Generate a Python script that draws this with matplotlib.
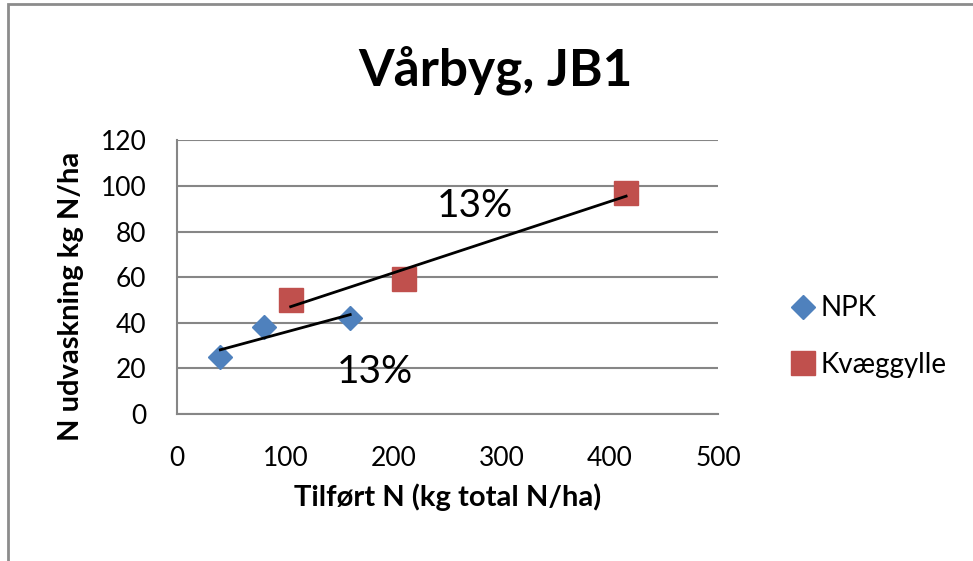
import numpy as np
import matplotlib.pyplot as plt
from matplotlib.patches import Rectangle

# data
npk_x = [40, 80, 160]
npk_y = [25, 38, 42]
gylle_x = [105, 210, 415]
gylle_y = [50, 59, 97]

x_ticks = [0, 100, 200, 300, 400, 500]
y_ticks = [0, 20, 40, 60, 80, 100, 120]

plt.rcParams['font.family'] = ['Lato', 'DejaVu Sans']

fig = plt.figure(figsize=(9.73, 5.61), dpi=100)
ax = fig.add_axes([0.182, 0.262, 0.556, 0.488])

# outer chart frame (only top/left edges visible in reference)
fig.patches.append(Rectangle((0.0085, -0.1), 1.2, 1.093, transform=fig.transFigure,
                             fill=False, edgecolor='#8c8c8c', linewidth=2))

ax.plot(npk_x, npk_y, linestyle='none', marker='D', markersize=12,
        color='#4F81BD', label='NPK', zorder=3)
ax.plot(gylle_x, gylle_y, linestyle='none', marker='s', markersize=17,
        color='#C0504D', label='Kvæggylle', zorder=3)

# linear trendlines
for xs, ys in [(npk_x, npk_y), (gylle_x, gylle_y)]:
    k, m = np.polyfit(xs, ys, 1)
    xx = np.array([min(xs), max(xs)])
    ax.plot(xx, k * xx + m, color='black', linewidth=2, zorder=4)

ax.text(275, 91, '13%', fontsize=28, ha='center', va='center')
ax.text(183, 18.5, '13%', fontsize=28, ha='center', va='center')

ax.set_xlim(0, 500)
ax.set_ylim(0, 120)
ax.set_xticks(x_ticks)
ax.set_yticks(y_ticks)
ax.tick_params(axis='both', length=0, labelsize=19)
ax.tick_params(axis='x', pad=23)
ax.tick_params(axis='y', pad=22)
ax.grid(axis='y', color='#868686', linewidth=1.5)
ax.set_axisbelow(True)
for s in ['top', 'right']:
    ax.spines[s].set_visible(False)
for s in ['left', 'bottom']:
    ax.spines[s].set_color('#868686')
    ax.spines[s].set_linewidth(1.5)

ax.set_xlabel('Tilført N (kg total N/ha)', fontsize=21, fontweight='bold', labelpad=9)
ax.set_ylabel('N udvaskning kg N/ha', fontsize=21, fontweight='bold', labelpad=12)
ax.yaxis.label.set_y(0.43)
fig.text(0.509, 0.875, 'Vårbyg, JB1', fontsize=37, fontweight='bold', ha='center', va='center')

fig.legend(loc='center left', bbox_to_anchor=(0.80, 0.40), frameon=False, fontsize=20,
           labelspacing=1.1, handletextpad=0.1, handlelength=1.0, borderaxespad=0)

fig.savefig('out.png', dpi=100)
